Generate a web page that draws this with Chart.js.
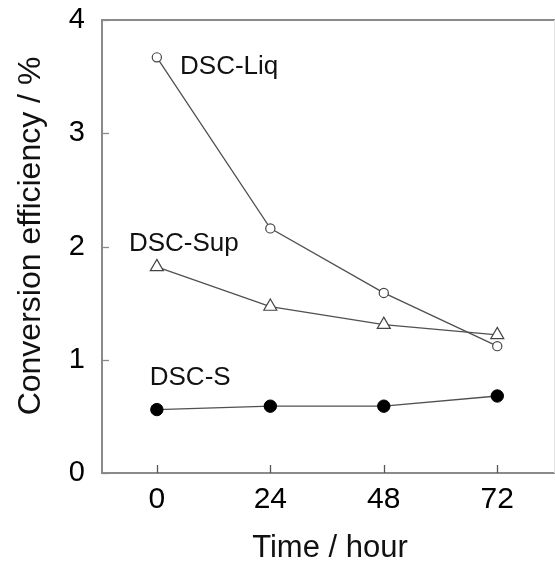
<!DOCTYPE html>
<html>
<head>
<meta charset="utf-8">
<script src="https://cdn.jsdelivr.net/npm/chart.js@4/dist/chart.umd.min.js"></script>
<style>
  html, body { margin: 0; padding: 0; background: #fff; }
  canvas { display: block; }
</style>
</head>
<body>
<canvas id="chart" width="555" height="563"></canvas>
<script>
// hours of ageing
const hours = [0, 24, 48, 72];
// conversion efficiency (%) per cell type
const liqValues = [3.67, 2.16, 1.59, 1.12];
const supValues = [1.82, 1.47, 1.31, 1.22];
const solidValues = [0.56, 0.59, 0.59, 0.68];

const xTicks = [0, 24, 48, 72];
const yTicks = [0, 1, 2, 3, 4];

// series names, anchored in data units (left edge, baseline)
const seriesLabels = [
  { text: 'DSC-Liq', x: 4.9, y: 3.52 },
  { text: 'DSC-Sup', x: -5.9, y: 1.96 },
  { text: 'DSC-S', x: -1.5, y: 0.78 }
];

const xTitle = 'Time / hour';
const yTitle = 'Conversion efficiency / %';

const FONT = '"Liberation Sans", Arial, Helvetica, sans-serif';

function points(values) {
  return hours.map((h, i) => ({ x: h, y: values[i] }));
}

// no extra room for end labels, the frame size is fixed
function noPadding(s) {
  s.paddingTop = 0;
  s.paddingBottom = 0;
  s.paddingLeft = 0;
  s.paddingRight = 0;
}

// frame, inward ticks, titles and series names
const decorations = {
  id: 'decorations',
  afterDatasetsDraw(chart) {
    const { ctx, chartArea: a, scales } = chart;
    const xs = scales.x, ys = scales.y;
    ctx.save();

    // top and right edges of the frame
    ctx.strokeStyle = '#8a8a8a';
    ctx.lineWidth = 2;
    ctx.beginPath();
    ctx.moveTo(a.left, a.top);
    ctx.lineTo(a.right + 1, a.top);
    ctx.stroke();
    ctx.strokeStyle = '#e4e4e4';
    ctx.lineWidth = 1;
    ctx.beginPath();
    ctx.moveTo(a.right + 0.5, a.top);
    ctx.lineTo(a.right + 0.5, a.bottom);
    ctx.stroke();

    // tick marks pointing into the plot
    ctx.strokeStyle = '#555';
    ctx.lineWidth = 1.3;
    xTicks.forEach(v => {
      const px = Math.round(xs.getPixelForValue(v)) + 0.5;
      ctx.beginPath();
      ctx.moveTo(px, a.bottom);
      ctx.lineTo(px, a.bottom - 8);
      ctx.stroke();
    });
    ctx.strokeStyle = '#8a8a8a';
    yTicks.forEach(v => {
      const py = Math.round(ys.getPixelForValue(v)) + 0.5;
      ctx.beginPath();
      ctx.moveTo(a.left, py);
      ctx.lineTo(a.left + 7, py);
      ctx.stroke();
    });

    // series names
    ctx.fillStyle = '#111';
    ctx.font = '26px ' + FONT;
    ctx.textAlign = 'left';
    ctx.textBaseline = 'alphabetic';
    seriesLabels.forEach(l => {
      ctx.fillText(l.text, xs.getPixelForValue(l.x), ys.getPixelForValue(l.y));
    });

    // axis titles
    ctx.font = '31px ' + FONT;
    ctx.textAlign = 'center';
    ctx.fillText(xTitle, 330, 557);
    ctx.font = '32px ' + FONT;
    ctx.save();
    ctx.translate(40, 236);
    ctx.rotate(-Math.PI / 2);
    ctx.fillText(yTitle, 0, 0);
    ctx.restore();

    ctx.restore();
  }
};

new Chart(document.getElementById('chart'), {
  type: 'scatter',
  data: {
    datasets: [
      {
        label: 'DSC-Liq',
        data: points(liqValues),
        showLine: true,
        borderColor: '#505050',
        borderWidth: 1.3,
        pointStyle: 'circle',
        pointRadius: 4.6,
        pointBackgroundColor: '#fff',
        pointBorderColor: '#444',
        pointBorderWidth: 1.2
      },
      {
        label: 'DSC-Sup',
        data: points(supValues),
        showLine: true,
        borderColor: '#505050',
        borderWidth: 1.3,
        pointStyle: 'triangle',
        pointRadius: 7.5,
        pointBackgroundColor: '#fff',
        pointBorderColor: '#444',
        pointBorderWidth: 1.2
      },
      {
        label: 'DSC-S',
        data: points(solidValues),
        showLine: true,
        borderColor: '#505050',
        borderWidth: 1.3,
        pointStyle: 'circle',
        pointRadius: 6.2,
        pointBackgroundColor: '#000',
        pointBorderColor: '#000',
        pointBorderWidth: 1
      }
    ]
  },
  options: {
    responsive: false,
    devicePixelRatio: 1,
    animation: false,
    clip: false,
    layout: {
      autoPadding: false,
      padding: { top: 20, right: 1, left: 0, bottom: 0 }
    },
    plugins: {
      legend: { display: false },
      tooltip: { enabled: false }
    },
    scales: {
      x: {
        type: 'linear',
        min: -11.6,
        max: 84,
        afterBuildTicks: s => { s.ticks = xTicks.map(v => ({ value: v })); },
        afterFit: s => { s.height = 90; noPadding(s); },
        grid: { drawOnChartArea: false, drawTicks: false },
        border: { color: '#8a8a8a', width: 2 },
        ticks: {
          color: '#000',
          padding: 9,
          maxRotation: 0,
          font: { family: FONT, size: 30 }
        }
      },
      y: {
        min: 0,
        max: 4,
        afterBuildTicks: s => { s.ticks = yTicks.map(v => ({ value: v })); },
        afterFit: s => { s.width = 102; noPadding(s); },
        grid: { drawOnChartArea: false, drawTicks: false },
        border: { color: '#8a8a8a', width: 2 },
        ticks: {
          color: '#000',
          padding: 17,
          font: { family: FONT, size: 29 }
        }
      }
    }
  },
  plugins: [decorations]
});
</script>
</body>
</html>
